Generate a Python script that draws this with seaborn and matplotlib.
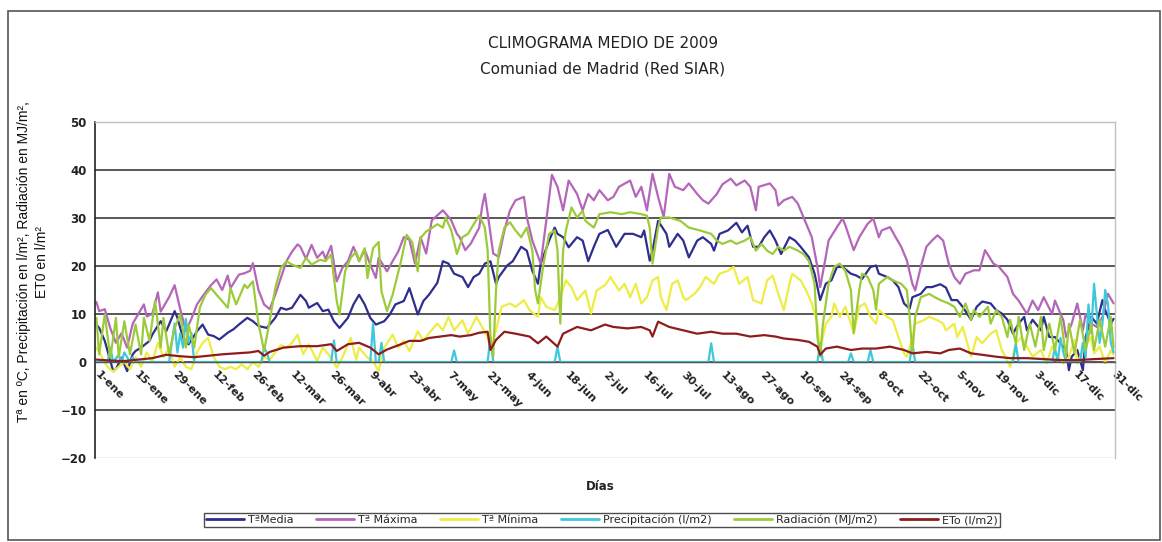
import numpy as np
import pandas as pd
import matplotlib
matplotlib.use("Agg")
import matplotlib.pyplot as plt
import seaborn as sns
from matplotlib.patches import Rectangle

# ---------------- data ----------------
tick_days = list(range(0, 365, 14))
tick_labels = ["1-ene", "15-ene", "29-ene", "12-feb", "26-feb", "12-mar", "26-mar",
               "9-abr", "23-abr", "7-may", "21-may", "4-jun", "18-jun", "2-jul",
               "16-jul", "30-jul", "13-ago", "27-ago", "10-sep", "24-sep", "8-oct",
               "22-oct", "5-nov", "19-nov", "3-dic", "17-dic", "31-dic"]

series_names = ["TªMedia", "Tª Máxima", "Tª Mínima", "Precipitación (l/m2)",
                "Radiación (MJ/m2)", "ETo (l/m2)"]

tmax_days = [0, 1, 3, 5, 7, 9, 11, 13, 15, 17,
             18, 20, 22, 23, 26, 28, 30, 32, 34, 36,
             38, 41, 43, 45, 47, 48, 51, 53, 55, 56,
             58, 60, 62, 64, 66, 68, 70, 72, 73, 75,
             77, 79, 81, 82, 84, 86, 88, 90, 92, 94,
             96, 98, 100, 101, 104, 106, 108, 110, 112, 114,
             116, 118, 120, 124, 127, 129, 130, 132, 134, 137,
             138, 139, 140, 142, 144, 146, 148, 150, 153, 154,
             156, 159, 161, 163, 165, 167, 169, 172, 174, 176,
             178, 180, 183, 185, 187, 191, 193, 195, 197, 199,
             201, 203, 205, 207, 210, 212, 215, 217, 219, 222,
             224, 227, 229, 232, 234, 236, 237, 241, 243, 244,
             246, 249, 251, 253, 256, 258, 259, 261, 262, 265,
             267, 268, 271, 273, 276, 278, 280, 281, 284, 286,
             288, 290, 292, 293, 295, 297, 299, 301, 303, 305,
             307, 309, 311, 314, 316, 318, 321, 323, 326, 328,
             330, 333, 335, 337, 339, 342, 343, 346, 347, 349,
             351, 353, 354, 356, 358, 360, 362, 364]
tmax_vals = [12.5, 10.6, 11, 7, 4, 6, 3, 8, 10, 12,
             9.5, 10, 14.5, 10.5, 13.5, 16, 11, 6.5, 9, 12,
             13.7, 16, 17.2, 15, 18, 15.4, 18.2, 18.5, 19, 20.6,
             15, 12, 11, 14, 17.5, 21, 23, 24.5, 24, 21.5,
             24.4, 21.7, 23, 21.5, 24.2, 16.8, 19.6, 21, 24, 21,
             23.4, 20.3, 17.5, 21.7, 18.9, 21, 23, 26, 25.5, 20.5,
             26, 22.6, 29.5, 31.6, 29.5, 26.7, 26, 23.3, 24.7, 28,
             32.3, 35, 31, 22.6, 21.9, 27.4, 31.6, 33.7, 34.4, 30.2,
             25.3, 20.5, 29.5, 39, 36.5, 31.6, 37.8, 35, 31.6, 35,
             33.7, 35.8, 33.7, 34.4, 36.5, 37.8, 34.4, 36.5, 31.6, 39.2,
             34.4, 30.2, 39.2, 36.5, 35.8, 37.2, 35, 33.7, 33, 35,
             37, 38.2, 36.8, 37.8, 36.5, 31.6, 36.5, 37.2, 35.8, 32.6,
             33.7, 34.4, 33, 30.2, 26, 19.8, 15.6, 21.9, 25.3, 28.1,
             29.9, 28.5, 23.3, 26, 28.8, 29.9, 26, 27.4, 28.1, 26,
             24, 21.2, 16.3, 14.9, 19.8, 24, 25.3, 26.4, 25.3, 20.5,
             17.7, 16.3, 18.4, 19.1, 19.1, 23.3, 20.5, 19.8, 17.7, 14.2,
             12.8, 10, 12.8, 10.8, 13.5, 10, 12.8, 8.7, 5.2, 8,
             12.2, 6.6, 10, 8, 7.3, 9.4, 14.2, 12.2]

tmed_days = [0, 1, 3, 5, 6, 7, 9, 11, 13, 14,
             16, 19, 20, 23, 25, 28, 29, 31, 33, 36,
             38, 40, 42, 44, 47, 49, 51, 54, 56, 58,
             61, 64, 66, 68, 70, 73, 75, 76, 79, 81,
             83, 85, 87, 90, 92, 94, 96, 98, 100, 103,
             105, 107, 110, 112, 115, 117, 119, 122, 124, 126,
             128, 131, 133, 135, 137, 139, 141, 143, 144, 147,
             149, 152, 154, 156, 158, 159, 162, 164, 165, 167,
             169, 172, 174, 176, 178, 180, 183, 186, 189, 192,
             195, 196, 198, 199, 201, 204, 205, 208, 210, 212,
             215, 217, 220, 221, 223, 226, 229, 231, 233, 235,
             237, 239, 241, 243, 245, 248, 250, 252, 255, 257,
             259, 261, 263, 265, 267, 270, 272, 274, 277, 279,
             280, 283, 285, 287, 289, 291, 292, 295, 297, 299,
             302, 304, 306, 308, 310, 313, 315, 317, 320, 322,
             324, 326, 328, 330, 332, 333, 335, 338, 339, 341,
             343, 345, 347, 348, 349, 351, 353, 354, 356, 358,
             360, 361, 363, 364]
tmed_vals = [7.8, 7.1, 4.4, 0.2, -1.9, -1.5, 0.9, -1.9, 1.6, 2.3,
             3, 4.4, 5.7, 8.5, 6.4, 10.6, 9.2, 5, 3.7, 6.4,
             7.8, 5.7, 5.4, 4.7, 6.1, 6.8, 7.8, 9.2, 8.5, 7.5,
             7.1, 9.2, 11.3, 10.9, 11.3, 14, 12.7, 11.3, 12.3, 10.6,
             10.9, 8.5, 7.1, 9.2, 12, 14, 12, 9.2, 7.8, 8.5,
             9.9, 12, 12.7, 15.4, 9.9, 12.7, 14, 16.5, 21, 20.5,
             18.4, 17.7, 15.6, 17.7, 18.4, 20.5, 21, 16.3, 17.7, 20.1,
             21, 24, 23.2, 19, 16.3, 20.5, 25.3, 28, 26.7, 26,
             23.9, 26, 25.3, 21, 24, 26.7, 27.5, 24, 26.7, 26.7,
             26, 27.4, 21.1, 23.2, 29.4, 26.7, 24, 26.7, 25.3, 21.8,
             25.3, 26, 24.6, 23.2, 26.7, 27.4, 29, 27, 28.4, 24,
             24, 26, 27.4, 25.3, 22.5, 26, 25.3, 24, 21.8, 18.4,
             12.9, 16.3, 17, 19.8, 19.8, 18.4, 18, 17.3, 19.8, 20.1,
             18.4, 17.7, 17, 15.6, 12.2, 11.1, 13.5, 14.2, 15.6, 15.6,
             16.2, 15.5, 12.9, 12.9, 11.5, 8.8, 11.5, 12.6, 12.2, 10.8,
             10.1, 8.8, 5.9, 8, 9.4, 6.6, 8.8, 6.6, 9.4, 5.2,
             5.2, 3.9, 2.5, -1.7, 1.1, 2.5, -1.7, 5.2, 9.4, 8,
             12.9, 10.8, 8, 9]

tmin_days = [0, 2, 4, 6, 8, 10, 12, 14, 16, 18,
             20, 22, 24, 26, 28, 30, 32, 34, 36, 38,
             40, 42, 44, 46, 48, 50, 52, 54, 56, 58,
             60, 62, 64, 66, 68, 70, 72, 74, 76, 79,
             81, 84, 86, 88, 91, 93, 94, 97, 99, 101,
             103, 106, 108, 110, 112, 115, 117, 119, 122, 124,
             126, 128, 131, 133, 136, 138, 140, 141, 143, 145,
             148, 150, 153, 155, 158, 159, 161, 164, 166, 168,
             170, 172, 175, 177, 179, 182, 184, 187, 189, 191,
             193, 195, 197, 199, 201, 202, 204, 206, 208, 210,
             211, 214, 216, 218, 221, 223, 226, 228, 230, 233,
             235, 238, 240, 242, 244, 246, 248, 249, 252, 254,
             256, 258, 259, 261, 263, 264, 266, 268, 270, 271,
             273, 275, 277, 279, 280, 283, 285, 287, 289, 290,
             292, 293, 296, 298, 301, 303, 304, 307, 308, 310,
             313, 315, 317, 320, 322, 324, 327, 329, 331, 333,
             335, 338, 340, 342, 344, 346, 348, 350, 351, 353,
             356, 357, 359, 361, 363, 364]
tmin_vals = [3, 1, -1, -2, -1, 0, -1.5, 1, -1, 2,
             0, 4, 1, 3, -1, 1, -1, -1.5, 2, 4,
             5, 1, -1, -1.5, -1, -1.5, -0.5, -1.5, 0, -1,
             1, 0.5, 2, 3.5, 3, 4, 5.7, 1.6, 3.7, 0.2,
             3, 0.9, -1.2, 0.9, 5, 0.5, 3, 0.9, 0.2, -1.9,
             3, 5.7, 3, 4.4, 2.3, 6.4, 4.4, 6, 8, 6.6,
             9.4, 6.6, 8.7, 5.9, 9.4, 7.3, 5.2, 2.5, 6.6, 11.5,
             12.2, 11.5, 12.9, 10.8, 9.4, 13.5, 11.5, 10.8, 13.5, 17,
             15.6, 12.9, 14.9, 10.1, 14.9, 16, 17.7, 14.9, 16.3, 13.5,
             16.3, 12.2, 13.5, 17, 17.7, 13.5, 10.8, 16.3, 17, 13.5,
             12.9, 14.2, 15.6, 17.7, 16.3, 18.4, 19, 19.8, 16.3, 17.7,
             12.9, 12.2, 17, 18, 14.2, 10.8, 16.3, 18.4, 17, 14.9,
             12.2, 8, 2.5, 8, 9.4, 12.2, 9.4, 11.5, 8, 5.9,
             11.5, 12.2, 9.4, 8, 10.8, 9.4, 8.7, 5.2, 1.8, 1.1,
             5.2, 8, 8.7, 9.4, 8.7, 8, 6.6, 8, 5.2, 7.3,
             1.1, 5.2, 3.9, 5.9, 6.6, 2.5, -1, 3.9, 5.2, 3.2,
             1.1, 2.5, -0.3, 3.2, 1.1, -0.3, 1.1, 4.6, -0.3, 2.5,
             5.2, 1.8, 3.2, -0.3, 2.5, 1.5]

prec_days = [0, 4, 5, 6, 8, 9, 10, 12, 13, 14,
             26, 27, 28, 29, 30, 31, 32, 33, 34, 35,
             59, 60, 61, 62, 84, 85, 86, 98, 99, 100,
             101, 102, 103, 127, 128, 129, 140, 141, 142, 164,
             165, 166, 219, 220, 221, 258, 259, 260, 269, 270,
             271, 276, 277, 278, 291, 292, 293, 328, 329, 330,
             342, 343, 344, 345, 346, 347, 352, 353, 354, 355,
             356, 357, 358, 359, 360, 361, 362, 363, 364]
prec_vals = [0, 0, 3, 0, 1.5, 0, 2, 0, 1, 0,
             0, 4, 8, 2, 6, 3, 9, 4, 6, 0,
             0, 3, 2, 0, 0, 4.5, 0, 0, 8, 0,
             0, 4, 0, 0, 2.4, 0, 0, 5.2, 0, 0,
             3.2, 0, 0, 3.9, 0, 0, 3.9, 0, 0, 1.8,
             0, 0, 2.5, 0, 0, 4, 0, 0, 3.8, 0,
             0, 3, 0, 5, 2, 0, 0, 4, 1, 12,
             6, 16.3, 10, 4, 8, 15, 12, 4, 2]

rad_days = [0, 1, 3, 5, 7, 8, 10, 12, 14, 16,
            17, 19, 21, 23, 24, 26, 28, 30, 32, 33,
            35, 37, 39, 41, 43, 45, 47, 48, 50, 53,
            54, 56, 58, 60, 62, 64, 66, 68, 70, 73,
            75, 77, 80, 82, 84, 86, 87, 89, 91, 93,
            94, 96, 97, 99, 101, 102, 104, 106, 109, 111,
            113, 115, 116, 118, 120, 122, 124, 125, 127, 129,
            131, 133, 135, 137, 139, 140, 141, 142, 143, 144,
            146, 148, 150, 152, 154, 156, 157, 158, 160, 162,
            164, 165, 166, 167, 168, 170, 172, 174, 175, 178,
            180, 184, 188, 191, 195, 197, 198, 199, 201, 202,
            205, 209, 212, 216, 220, 222, 224, 227, 229, 232,
            234, 236, 238, 240, 242, 244, 246, 248, 251, 253,
            255, 257, 258, 259, 260, 262, 264, 266, 268, 270,
            271, 273, 274, 276, 278, 279, 280, 283, 285, 288,
            290, 291, 292, 293, 295, 298, 300, 302, 305, 307,
            309, 311, 313, 314, 316, 319, 320, 322, 324, 326,
            327, 329, 330, 332, 334, 336, 338, 339, 341, 343,
            345, 347, 348, 350, 352, 354, 356, 357, 359, 361,
            363, 364]
rad_vals = [9.2, 1.6, 9.9, 0.9, 9.2, 1, 8.5, 1.6, 7.8, 1.6,
            9.2, 4.4, 12.7, 3, 9.2, 1.6, 7.1, 9.9, 3, 7.8,
            3, 11.3, 14, 15.4, 14, 12.7, 11.3, 15.4, 12, 16.1,
            15.4, 16.8, 8, 2.3, 8.5, 15.4, 19.6, 21, 20.3, 19.6,
            21.7, 20.3, 21.3, 21, 22.4, 12.7, 9.9, 18.9, 21.7, 23,
            21, 23.7, 17.5, 23.7, 25, 14.7, 10.6, 14, 21, 26.5,
            25, 18.9, 25.8, 27.2, 27.9, 28.7, 28, 30.1, 27.4, 22.5,
            26, 26.7, 28.7, 30.5, 28, 23.2, 5.3, 1.1, 15, 23.2,
            28, 29.1, 27.4, 26, 28, 23.2, 15, 12.2, 20.5, 26.7,
            27.4, 23.2, 8, 23.2, 27.4, 32.2, 30.1, 31.5, 29.4, 28,
            30.8, 31.2, 30.8, 31.2, 30.8, 30.5, 28, 20.5, 28, 30.1,
            30.1, 29.4, 28, 27.4, 26.7, 25.3, 24.6, 25.3, 24.6, 25.3,
            26, 23.2, 24.6, 23.2, 22.5, 24, 23.2, 24, 23.2, 22.5,
            21, 16.3, 5.3, 1.1, 8, 16.3, 19.8, 20.5, 19, 15,
            6, 15, 18.4, 17.7, 15, 10.9, 16.3, 17.7, 17, 16.3,
            15, 9.4, 1.8, 9.4, 13.5, 14.2, 13.5, 12.9, 12.2, 11.5,
            9.4, 12.2, 8.8, 10.8, 9.4, 11.5, 8, 10.8, 9.4, 5.2,
            8.8, 3.9, 9.4, 2.5, 8, 3.2, 9.4, 2.5, 8, 2.5,
            9.4, 1.1, 8, 1.8, 8.8, 2.5, 8, 2.5, 8.8, 3.2,
            9.4, 3]

eto_days = [0, 5, 10, 15, 20, 25, 30, 35, 40, 45,
            50, 55, 58, 60, 62, 67, 73, 79, 84, 86,
            90, 94, 98, 101, 104, 109, 112, 116, 119, 123,
            127, 130, 134, 137, 140, 141, 143, 146, 150, 155,
            158, 161, 165, 167, 172, 177, 182, 185, 190, 195,
            198, 199, 201, 205, 210, 215, 220, 224, 229, 234,
            239, 243, 246, 251, 255, 258, 259, 261, 265, 270,
            274, 279, 284, 289, 292, 297, 302, 305, 309, 313,
            317, 322, 327, 333, 339, 345, 351, 357, 364]
eto_vals = [0.5, 0.3, 0.2, 0.5, 0.8, 1.5, 1.2, 1, 1.3, 1.6,
            1.8, 2, 2.3, 1.3, 2.1, 3, 3.3, 3.3, 3.7, 2.3,
            3.7, 4, 3, 1.6, 2.6, 3.7, 4.4, 4.4, 5, 5.3,
            5.6, 5.3, 5.6, 6.1, 6.3, 2.5, 4.6, 6.3, 5.9, 5.3,
            3.9, 5.3, 3.2, 5.9, 7.3, 6.6, 7.8, 7.3, 7, 7.3,
            6.6, 5.3, 8.4, 7.3, 6.6, 5.9, 6.3, 5.9, 5.9, 5.3,
            5.6, 5.3, 4.9, 4.6, 4.2, 3.2, 1.5, 2.8, 3.2, 2.5,
            2.8, 2.8, 3.2, 2.5, 1.8, 2.1, 1.8, 2.5, 2.8, 1.8,
            1.5, 1.1, 0.8, 0.8, 0.6, 0.4, 0.4, 0.6, 0.8]

colors = ["#2E2E8E", "#B466B8", "#EDED45", "#3EC8DA", "#9CCB3A", "#8E1C1C"]

# ---------------- build long table ----------------
frames = []
for name, d, v in zip(series_names,
                      [tmed_days, tmax_days, tmin_days, prec_days, rad_days, eto_days],
                      [tmed_vals, tmax_vals, tmin_vals, prec_vals, rad_vals, eto_vals]):
    n = min(len(d), len(v))
    frames.append(pd.DataFrame({"dia": d[:n], "valor": v[:n], "serie": name}))
df = pd.concat(frames, ignore_index=True)

# ---------------- figure ----------------
sns.set_style("white")
plt.rcParams["font.family"] = ["DejaVu Sans"]

fig = plt.figure(figsize=(11.62, 5.42), dpi=100)
fig.patches.append(Rectangle((8 / 1162, 1 - 540 / 542), 1152 / 1162, 529 / 542,
                             transform=fig.transFigure, fill=False,
                             edgecolor="#555555", linewidth=1.2))

ax = fig.add_axes([95 / 1162, 1 - 458 / 542, 1020 / 1162, 336 / 542])

for lvl in [-10, 0, 10, 20, 30, 40]:
    ax.axhline(lvl, color="#4a4a4a", linewidth=1.3, zorder=0)
ax.axhline(-20, color="#c0c0c0", linewidth=1.0, zorder=0)

sns.lineplot(data=df, x="dia", y="valor", hue="serie", hue_order=series_names,
             palette=colors, estimator=None, sort=True, linewidth=1.6, ax=ax)

# spine position first (it resets the ticks), then tick setup
ax.spines["bottom"].set_position(("data", 0))
ax.spines["bottom"].set_color("#555555")
ax.spines["bottom"].set_linewidth(1.0)
ax.spines["left"].set_color("#222222")
ax.spines["left"].set_linewidth(1.2)
for s in ["top", "right"]:
    ax.spines[s].set_color("#c0c0c0")
    ax.spines[s].set_linewidth(1.0)

ax.set_xlim(-0.5, 364.5)
ax.set_ylim(-20, 50)
ax.set_yticks(list(range(-20, 51, 10)))
ax.set_xticks(tick_days)
ax.tick_params(axis="x", direction="out", length=3, width=0.8, pad=5, colors="#444444",
               labelcolor="#222222")
ax.tick_params(axis="y", direction="out", length=4, width=1, pad=2, colors="#222222")
ax.set_xticklabels(tick_labels, rotation=-45, ha="left", va="center",
                   rotation_mode="anchor", fontsize=8, fontweight="bold",
                   color="#222222")
for lab in ax.get_yticklabels():
    lab.set_fontsize(8.5)
    lab.set_fontweight("bold")
    lab.set_color("#222222")
ax.set_xlabel("")
ax.set_ylabel("")

handles, labels = ax.get_legend_handles_labels()
ax.get_legend().remove()
leg = fig.legend(handles, labels, loc="center", bbox_to_anchor=(602 / 1162, 1 - 520 / 542),
                 ncol=6, frameon=True, fancybox=False, edgecolor="#222222",
                 fontsize=8, handlelength=3.4, handletextpad=0.4, columnspacing=2.0,
                 borderpad=0.2)
leg.get_frame().set_linewidth(1.0)
for h in leg.get_lines():
    h.set_linewidth(2.0)

fig.text(603 / 1162, 1 - 44 / 542, "CLIMOGRAMA MEDIO DE 2009", ha="center", va="center",
         fontsize=11, color="#222222")
fig.text(603 / 1162, 1 - 69 / 542, "Comuniad de Madrid (Red SIAR)", ha="center", va="center",
         fontsize=11, color="#222222")
fig.text(600 / 1162, 1 - 487 / 542, "Días", ha="center", va="center", fontsize=8.5,
         fontweight="bold", color="#222222")
fig.text(33 / 1162, 1 - 262 / 542,
         "Tª en ºC, Precipitación en l/m², Radiación en MJ/m²,\nET0 en l/m²",
         rotation=90, ha="center", va="center", multialignment="center",
         fontsize=10, family=["Liberation Sans", "DejaVu Sans"], color="#111111",
         linespacing=1.4)

fig.savefig("out.png", dpi=100)
